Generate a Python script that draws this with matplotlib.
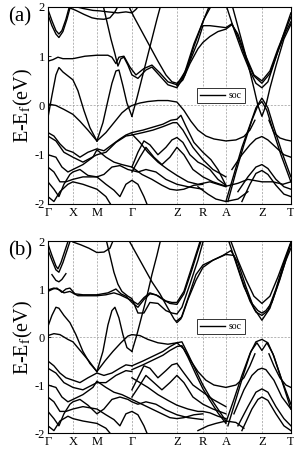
import matplotlib
matplotlib.use('Agg')
import matplotlib.pyplot as plt

plt.rcParams['font.family'] = ['Liberation Serif', 'DejaVu Serif']
plt.rcParams['mathtext.fontset'] = 'stix'

# high symmetry points along the path
kticks = [0, 25, 49, 84, 129, 155, 178, 214, 243]
klabels = ['\u0393', 'X', 'M', '\u0393', 'Z', 'R', 'A', 'Z', 'T']

# band energies (k, E-Ef in eV)
bands_a = [
    [(0,1.95),(4,1.72),(8,1.52),(11,1.45),(14,1.52),(18,1.75),(22,2.05)],
    [(0,1.85),(4,1.62),(8,1.45),(11,1.38),(15,1.5),(19,1.75),(23,2.05)],
    [(22,1.98),(28,1.93),(36,1.85),(44,1.78),(49,1.76),(56,1.75),(62,1.78),(67,1.9),(71,2.05)],
    [(25,2.02),(35,1.97),(45,1.93),(52,1.92),(60,1.9),(70,1.88),(78,1.9),(84,1.88),(88,1.95),(92,2.05)],
    [(55,2.05),(59,1.7),(63,1.35),(67,1.05),(70,0.8),(73,0.95),(76,0.98),(80,0.82),(84,0.62),(90,0.55),
     (98,0.72),(104,0.78),(112,0.6),(120,0.42),(129,0.36),(137,0.62),(146,1.2),(156,1.75),(164,2.05)],
    [(0,0.9),(5,0.93),(10,0.98),(15,0.95),(25,0.95),(37,1.0),(49,1.02),(60,1.02),(64,0.98),(68,0.85),
     (71,0.98),(76,1.0),(82,0.78),(88,0.62),(96,0.75),(104,0.82),(112,0.66),(120,0.48),(129,0.42),
     (137,0.68),(146,1.25),(155,1.7),(162,2.05)],
    [(80,2.05),(86,1.8),(94,1.5),(102,1.2),(110,0.9),(118,0.62),(124,0.48),(129,0.45),(134,0.55),
     (142,0.9),(150,1.3),(155,1.62),(162,1.62),(170,1.6),(178,1.58),(184,1.66),(190,1.4),(198,0.95),
     (206,0.6),(214,0.45),(222,0.65),(230,1.1),(238,1.5),(243,1.7)],
    [(129,0.4),(135,0.52),(142,0.85),(150,1.15),(155,1.28),(162,1.4),(170,1.5),(178,1.55),(184,1.64),
     (190,1.45),(198,1.0),(206,0.62),(214,0.5),(222,0.7),(230,1.15),(238,1.55),(243,1.8)],
    [(178,2.05),(186,1.55),(194,1.1),(202,0.7),(208,0.45),(214,0.36),(220,0.48),(226,0.85),(234,1.35),(243,1.88)],
    [(184,2.05),(192,1.45),(200,0.85),(206,0.35),(210,0.0),(214,-0.22),(218,0.0),(222,0.35),(228,0.8),
     (236,1.35),(243,1.65)],
    [(178,-1.95),(186,-1.4),(194,-0.85),(202,-0.4),(208,-0.05),(214,0.15),(220,-0.05),(226,-0.45),
     (234,-0.95),(243,-1.45)],
    [(180,-1.95),(188,-1.35),(196,-0.8),(204,-0.3),(210,0.0),(214,0.08),(219,-0.1),(225,-0.5),
     (233,-1.0),(243,-1.55)],
    [(84,-0.22),(89,0.15),(94,0.55),(99,0.95),(104,1.35),(109,1.75),(113,2.05)],
    [(49,-0.72),(55,-0.35),(60,0.1),(64,0.45),(68,0.7),(71,0.72),(75,0.4),(79,0.05),(84,-0.22)],
    [(0,-0.25),(4,0.2),(8,0.62),(11,0.77),(15,0.68),(20,0.6),(25,0.52),(30,0.3),(36,-0.1),(42,-0.45),(49,-0.72)],
    [(0,0.03),(8,0.0),(16,-0.08),(25,-0.18),(32,-0.32),(40,-0.5),(49,-0.72),(58,-0.55),(66,-0.35),
     (74,-0.15),(80,-0.05),(84,0.0),(92,0.05),(100,0.08),(110,0.1),(120,0.1),(129,0.07),(136,-0.1),
     (143,-0.32),(150,-0.5),(158,-0.62),(166,-0.68),(178,-0.72),(188,-0.7),(196,-0.63),(202,-0.5),(207,-0.3)],
    [(221,-0.3),(226,-0.55),(232,-0.66),(238,-0.7),(243,-0.72)],
    [(0,-0.55),(6,-0.62),(12,-0.78),(18,-0.9),(25,-0.95),(32,-1.05),(40,-0.95),(49,-0.88),(56,-0.92),
     (64,-0.8),(72,-0.68),(78,-0.6),(84,-0.55),(95,-0.5),(105,-0.44),(115,-0.38),(123,-0.3),(129,-0.28),
     (133,-0.2),(138,-0.42),(146,-0.75),(155,-0.95),(163,-1.1),(170,-1.3),(178,-1.62)],
    [(0,-0.62),(8,-0.72),(16,-0.95),(25,-1.05),(35,-1.15),(49,-1.0),(58,-0.95),(68,-0.75),(78,-0.62),
     (84,-0.6),(95,-0.55),(105,-0.5),(115,-0.43),(125,-0.35),(129,-0.35),(135,-0.5),(145,-0.85),
     (155,-1.1),(165,-1.3),(178,-1.45)],
    [(84,-1.25),(90,-0.95),(96,-0.72),(102,-0.8),(110,-1.0),(118,-0.85),(124,-0.7),(129,-0.65),
     (135,-0.75),(142,-1.0),(150,-1.15),(155,-1.2),(162,-1.3),(170,-1.5),(178,-1.62)],
    [(84,-1.35),(92,-1.05),(98,-0.85),(106,-1.05),(114,-1.2),(122,-1.05),(129,-0.85),(136,-1.0),
     (145,-1.3),(155,-1.45),(165,-1.55),(178,-1.64),(190,-1.58),(200,-1.5),(214,-1.55),(225,-1.55),
     (235,-1.6),(243,-1.55)],
    [(184,-1.3),(194,-1.0),(202,-0.8),(208,-0.68),(214,-0.63),(220,-0.7),(228,-0.85),(236,-1.0),(243,-1.05)],
    [(190,-1.75),(200,-1.45),(208,-1.25),(214,-1.2),(220,-1.28),(228,-1.5),(236,-1.65),(243,-1.7)],
    [(194,-1.95),(202,-1.6),(208,-1.38),(214,-1.32),(220,-1.4),(228,-1.62),(236,-1.8),(243,-1.85)],
    [(150,-1.65),(160,-1.8),(168,-1.9),(178,-1.95),(190,-1.9),(200,-1.75)],
    [(0,-1.55),(6,-1.7),(11,-1.85),(16,-1.6),(22,-1.4),(25,-1.35),(32,-1.3),(40,-1.42),(49,-1.45),
     (56,-1.4),(64,-1.25),(72,-1.22),(80,-1.3),(84,-1.32),(90,-1.35),(98,-1.3),(108,-1.35),(118,-1.5),
     (129,-1.6),(140,-1.65),(155,-1.7)],
    [(0,-1.25),(6,-1.35),(12,-1.55),(18,-1.55),(25,-1.5),(35,-1.45),(49,-1.45),(58,-1.6),(66,-1.72),
     (72,-1.85),(78,-1.6),(84,-1.52),(90,-1.6),(96,-1.85),(100,-2.05)],
    [(0,-1.0),(8,-1.05),(14,-1.25),(20,-1.35),(25,-1.3),(35,-1.2),(45,-1.05),(49,-0.9),(58,-1.05),
     (66,-1.15),(74,-1.2),(84,-1.25),(94,-1.4),(104,-1.5),(114,-1.62),(122,-1.7),(129,-1.72),
     (136,-1.7),(146,-1.62),(155,-1.6)],
    [(0,-1.85),(6,-1.95),(12,-1.75),(20,-1.6),(25,-1.55),(35,-1.6),(49,-1.7),(58,-1.85),(64,-2.05)],
    [(84,-0.58),(92,-0.75),(100,-0.95),(110,-1.15),(120,-1.3),(129,-1.42),(140,-1.55),(150,-1.6),
     (155,-1.58),(162,-1.55),(170,-1.6),(178,-1.65)],
]

# band energies
bands_b = [
    [(0,1.94),(4,1.7),(8,1.48),(10,1.42),(13,1.55),(17,1.8),(21,2.05)],
    [(0,1.82),(4,1.6),(8,1.4),(11,1.35),(15,1.55),(19,1.8),(23,2.05)],
    [(4,1.3),(8,1.18),(11,1.15),(14,1.2),(18,1.32)],
    [(0,0.95),(5,1.0),(9,1.02),(14,0.93),(18,1.0),(22,1.02),(27,0.9),(35,0.88),(49,0.88),(60,0.92),
     (68,1.0),(73,0.9),(78,0.85),(84,0.72),(90,0.62),(96,0.78),(102,0.9),(108,0.88),(115,0.78),
     (122,0.7),(129,0.68),(136,0.9),(144,1.4),(150,1.8),(154,2.05)],
    [(0,0.98),(6,1.02),(12,0.98),(16,0.92),(22,0.95),(30,0.86),(40,0.86),(49,0.86),(58,0.88),(66,0.92),
     (72,0.88),(78,0.82),(84,0.76),(90,0.68),(96,0.82),(102,0.92),(110,0.86),(118,0.75),(124,0.72),
     (129,0.72),(136,0.95),(143,1.4),(150,1.85),(153,2.05)],
    [(25,1.98),(33,1.92),(41,1.85),(49,1.76),(56,1.77),(62,1.85),(66,2.05)],
    [(58,2.05),(62,1.7),(66,1.35),(70,1.1),(74,0.95),(80,0.85),(84,0.8),(90,0.5),(96,0.5),(102,0.72),
     (110,0.7),(118,0.55),(124,0.5),(129,0.48),(134,0.62),(142,1.1),(150,1.6),(156,2.05)],
    [(80,2.05),(88,1.75),(96,1.45),(104,1.15),(112,0.9),(120,0.6),(126,0.38),(129,0.3),(133,0.38),
     (140,0.8),(148,1.3),(155,1.5),(165,1.6),(178,1.72),(186,1.7),(194,1.2),(202,0.75),(208,0.52),
     (214,0.45),(220,0.55),(228,1.0),(236,1.55),(243,1.95)],
    [(129,0.34),(134,0.42),(140,0.78),(148,1.18),(155,1.45),(165,1.6),(175,1.7),(183,1.8),(190,1.55),
     (198,1.05),(206,0.6),(214,0.35),(222,0.6),(230,1.1),(238,1.6),(243,1.85)],
    [(182,2.05),(190,1.6),(198,1.2),(206,0.85),(214,0.7),(222,0.85),(230,1.25),(238,1.7),(243,1.98)],
    [(180,2.05),(188,1.55),(196,1.05),(204,0.7),(210,0.55),(214,0.5),(218,0.55),(224,0.72),(232,1.2),
     (240,1.75),(243,1.95)],
    [(178,-1.78),(186,-1.3),(194,-0.8),(202,-0.35),(208,-0.1),(214,-0.05),(220,-0.12),(226,-0.4),
     (234,-0.9),(243,-1.4)],
    [(180,-1.85),(188,-1.3),(196,-0.75),(203,-0.3),(209,-0.12),(214,-0.28),(219,-0.12),(225,-0.35),
     (233,-0.85),(243,-1.5)],
    [(49,-0.72),(55,-0.3),(60,0.25),(64,0.55),(67,0.62),(71,0.4),(75,0.05),(79,-0.22),(84,-0.3)],
    [(84,-0.3),(89,0.05),(94,0.45),(99,0.85),(104,1.3),(109,1.7),(113,2.05)],
    [(0,0.22),(4,0.45),(8,0.62),(11,0.6),(16,0.45),(22,0.3),(28,0.05),(35,-0.3),(42,-0.55),(49,-0.72)],
    [(0,0.03),(6,0.07),(12,0.05),(20,-0.05),(25,-0.1),(33,-0.3),(41,-0.5),(49,-0.72),(57,-0.5),
     (65,-0.3),(73,-0.12),(80,0.02),(84,0.05),(92,0.03),(100,-0.05),(110,-0.12),(120,-0.15),
     (129,-0.12),(136,-0.25),(143,-0.5),(150,-0.72),(158,-0.9),(166,-1.0),(178,-1.05),(188,-1.0),
     (196,-0.85),(202,-0.6),(207,-0.35)],
    [(221,-0.35),(226,-0.6),(232,-0.85),(238,-1.0),(243,-1.05)],
    [(84,-0.6),(95,-0.5),(105,-0.4),(115,-0.3),(122,-0.2),(129,-0.12),(134,-0.1),(140,-0.35),
     (148,-0.7),(155,-1.0),(162,-1.25),(170,-1.5),(178,-1.75)],
    [(84,-0.68),(95,-0.58),(105,-0.48),(115,-0.38),(122,-0.28),(129,-0.2),(134,-0.18),(140,-0.42),
     (148,-0.78),(155,-1.08),(162,-1.32),(170,-1.58),(178,-1.8)],
    [(186,-1.6),(196,-1.1),(204,-0.8),(210,-0.68),(214,-0.65),(218,-0.68),(226,-0.9),(234,-1.25),(243,-1.5)],
    [(190,-1.85),(200,-1.45),(208,-1.15),(214,-1.08),(220,-1.15),(228,-1.45),(236,-1.7),(243,-1.85)],
    [(194,-1.95),(204,-1.5),(210,-1.3),(214,-1.25),(220,-1.32),(228,-1.6),(236,-1.85),(243,-1.95)],
    [(150,-1.95),(160,-1.85),(168,-1.8),(178,-1.75),(188,-1.78),(196,-1.9)],
    [(84,-1.1),(90,-0.85),(96,-0.6),(102,-0.65),(110,-0.85),(118,-0.7),(124,-0.58),(129,-0.55),
     (136,-0.75),(145,-1.0),(155,-1.15),(165,-1.3),(178,-1.45)],
    [(84,-1.25),(92,-1.0),(98,-0.8),(106,-0.95),(114,-1.1),(122,-0.95),(129,-0.8),(136,-0.95),
     (145,-1.25),(155,-1.4),(165,-1.5),(178,-1.6)],
    [(0,-0.5),(6,-0.6),(12,-0.75),(18,-0.85),(25,-0.9),(32,-0.95),(40,-0.85),(49,-0.75),(56,-0.8),
     (64,-0.75),(72,-0.65),(78,-0.58),(84,-0.6)],
    [(0,-0.65),(8,-0.75),(16,-0.95),(25,-1.05),(35,-1.1),(49,-0.95),(58,-0.95),(68,-0.8),(78,-0.7),(84,-0.72)],
    [(0,-1.0),(8,-1.05),(14,-1.25),(20,-1.35),(25,-1.3),(35,-1.2),(45,-1.05),(49,-0.92),(58,-1.05),
     (66,-1.15),(74,-1.2),(84,-1.3),(94,-1.4),(104,-1.5),(114,-1.6),(122,-1.68),(129,-1.7),
     (136,-1.68),(146,-1.62),(155,-1.6)],
    [(0,-1.25),(6,-1.35),(12,-1.55),(18,-1.55),(25,-1.5),(35,-1.45),(49,-1.5),(58,-1.62),(66,-1.72),
     (72,-1.85),(78,-1.6),(84,-1.55),(90,-1.62),(96,-1.85),(100,-2.05)],
    [(0,-1.55),(6,-1.7),(11,-1.85),(16,-1.6),(22,-1.4),(25,-1.35),(32,-1.3),(40,-1.42),(49,-1.6),
     (56,-1.5),(64,-1.3),(72,-1.25),(80,-1.3),(84,-1.35),(90,-1.4),(98,-1.35),(108,-1.4),(118,-1.52),
     (129,-1.62),(140,-1.68),(155,-1.72)],
    [(0,-1.85),(6,-1.95),(12,-1.75),(20,-1.65),(25,-1.7),(35,-1.75),(49,-1.8),(58,-1.9),(64,-2.05)],
    [(84,-0.85),(92,-0.95),(100,-1.05),(110,-1.2),(120,-1.32),(129,-1.42),(140,-1.5),(150,-1.55),
     (155,-1.55),(162,-1.58),(170,-1.65),(178,-1.7)],
]

fig = plt.figure(figsize=(2.94, 4.49), dpi=100)
ax_a = fig.add_axes([0.163, 0.5457, 0.8265, 0.4388])
ax_b = fig.add_axes([0.163, 0.0356, 0.8265, 0.4276])

for ax, bands, tag, leg_y in [(ax_a, bands_a, '(a)', 0.551), (ax_b, bands_b, '(b)', 0.555)]:
    for kx in kticks[1:-1]:
        ax.axvline(kx, color='#999999', lw=0.5, ls=(0, (3, 2)), zorder=0)
    ax.axhline(0, color='#999999', lw=0.5, ls=(0, (3, 2)), zorder=0)
    for i, band in enumerate(bands):
        k = [p[0] for p in band]
        e = [p[1] for p in band]
        ax.plot(k, e, color='black', lw=1.0, label='soc' if i == 0 else None)
    ax.set_xlim(kticks[0], kticks[-1])
    ax.set_ylim(-2, 2)
    ax.set_xticks(kticks)
    ax.set_xticklabels(klabels)
    ax.set_yticks([-2, -1, 0, 1, 2])
    ax.set_yticklabels(['-2', '-1', '0', '1', '2'])
    ax.tick_params(direction='in', length=2, width=0.6, labelsize=9, pad=2)
    ax.tick_params(axis='x', length=0)
    for sp in ax.spines.values():
        sp.set_linewidth(0.8)
    ax.set_ylabel('E-E$_\\mathrm{f}$(eV)', fontsize=14.5, labelpad=0)
    ax.text(-0.163, 1.0, tag, transform=ax.transAxes, fontsize=15, ha='left', va='top')
    leg = ax.legend(loc='center', bbox_to_anchor=(0.712, leg_y), fontsize=7, fancybox=False,
                    edgecolor='#333333', handlelength=2.6, handletextpad=0.4,
                    borderpad=0.3, framealpha=1)
    leg.get_frame().set_linewidth(0.7)

fig.savefig('out.png', dpi=100)
